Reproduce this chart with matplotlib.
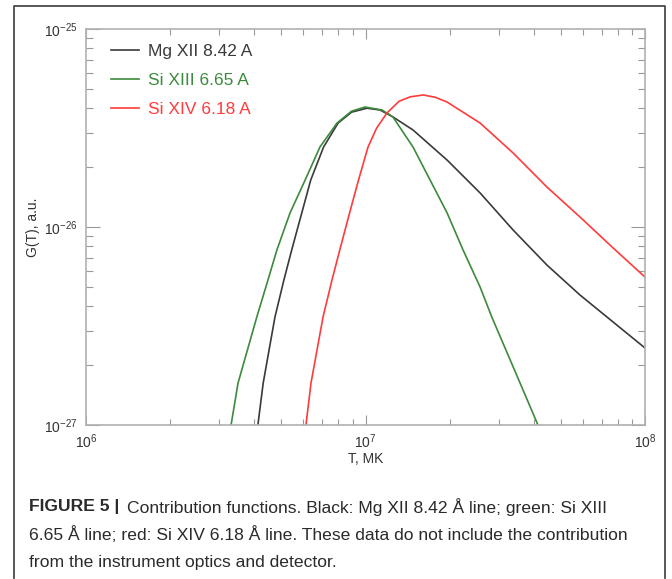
import matplotlib
matplotlib.use("Agg")
import matplotlib.pyplot as plt
import numpy as np
from matplotlib.lines import Line2D
from matplotlib.ticker import LogLocator, NullFormatter

plt.rcParams['font.family'] = ['Liberation Sans', 'DejaVu Sans']
plt.rcParams['mathtext.fontset'] = 'custom'
plt.rcParams['mathtext.rm'] = 'Liberation Sans'
plt.rcParams['mathtext.it'] = 'Liberation Sans'
plt.rcParams['axes.unicode_minus'] = False

# log10(T) and log10(G)
mg_logT = [6.615, 6.634, 6.676, 6.708, 6.736, 6.772, 6.804, 6.850, 6.902, 6.95, 7.005, 7.052,
           7.098, 7.170, 7.292, 7.410, 7.528, 7.649, 7.767, 7.886, 8.0]
mg_logG = [-27.0, -26.788, -26.455, -26.268, -26.116, -25.929, -25.763, -25.596, -25.475, -25.42, -25.40, -25.409,
           -25.444, -25.510, -25.662, -25.828, -26.015, -26.192, -26.343, -26.480, -26.611]

si13_logT = [6.519, 6.544, 6.611, 6.651, 6.683, 6.730, 6.784, 6.837, 6.898, 6.95, 6.998, 7.059,
             7.098, 7.170, 7.292, 7.349, 7.410, 7.452, 7.553, 7.617]
si13_logG = [-27.0, -26.788, -26.455, -26.268, -26.116, -25.929, -25.763, -25.596, -25.475, -25.415, -25.394, -25.409,
             -25.444, -25.596, -25.929, -26.116, -26.303, -26.455, -26.788, -27.0]

si14_logT = [6.787, 6.805, 6.848, 6.880, 6.908, 6.943, 6.975, 7.009, 7.04, 7.077, 7.12, 7.159,
             7.206, 7.250, 7.292, 7.410, 7.528, 7.649, 7.767, 7.886, 8.0]
si14_logG = [-27.0, -26.788, -26.455, -26.268, -26.116, -25.929, -25.763, -25.596, -25.50, -25.424, -25.365, -25.343,
             -25.333, -25.345, -25.369, -25.475, -25.626, -25.798, -25.949, -26.106, -26.253]

labels = ['Mg XII 8.42 A', 'Si XIII 6.65 A', 'Si XIV 6.18 A']
colors = ['#3a3a3a', '#3c8a3c', '#ff3b3b']
xticks = [1e6, 1e7, 1e8]
yticks = [1e-27, 1e-26, 1e-25]

W, H = 672, 579
fig = plt.figure(figsize=(W / 100, H / 100), dpi=100)
ax = fig.add_axes([86 / W, 1 - 425 / H, (645 - 86) / W, (425 - 29) / H])

series = [(mg_logT, mg_logG), (si13_logT, si13_logG), (si14_logT, si14_logG)]
for (lt, lg), lab, c in zip(series, labels, colors):
    ax.plot(10 ** np.array(lt), 10 ** np.array(lg), color=c, lw=1.2, label=lab)

ax.set_xscale('log')
ax.set_yscale('log')
ax.set_xticks(xticks)
ax.set_yticks(yticks)
ax.set_xlim(1e6, 1e8)
ax.set_ylim(1e-27, 1e-25)

for s in ax.spines.values():
    s.set_color('#b0b0b0')
    s.set_linewidth(1.2)
ax.xaxis.set_minor_locator(LogLocator(base=10, subs=np.arange(2, 10)))
ax.yaxis.set_minor_locator(LogLocator(base=10, subs=np.arange(2, 10)))
ax.xaxis.set_minor_formatter(NullFormatter())
ax.yaxis.set_minor_formatter(NullFormatter())
ax.tick_params(which='both', direction='in', top=True, right=True, color='#999999', width=0.8,
               labelsize=10, labelcolor='#333333')
ax.tick_params(which='major', length=7)
ax.tick_params(which='minor', length=4)
ax.tick_params(axis='y', which='major', length=10)
ax.tick_params(axis='y', which='minor', length=5)
ax.tick_params(axis='x', pad=5)
ax.tick_params(axis='y', pad=6)

ax.set_xlabel('T, MK', fontsize=10, color='#333333', labelpad=1)
ax.set_ylabel('G(T), a.u.', fontsize=10, color='#333333', labelpad=3)

leg = ax.legend(loc='upper left', frameon=False, fontsize=12.5, handlelength=1.6, handletextpad=0.55,
                labelspacing=0.82, bbox_to_anchor=(0.017, 1.003), labelcolor='linecolor')

# outer frame (open at bottom)
fx = [14 / W, 14 / W, 665 / W, 665 / W]
fy = [1 / H, 1 - 6 / H, 1 - 6 / H, 1 / H]
fig.add_artist(Line2D(fx, fy, transform=fig.transFigure, color='#4a4a4a', lw=1.3))

# caption
cap_font = ['Liberation Sans', 'DejaVu Sans']
cap_size = 12.6
x0 = 29 / W
t1 = fig.text(x0, 1 - 507 / H, 'FIGURE 5 |', fontsize=cap_size, fontweight='bold', family=cap_font,
              color='#2a2a2a', va='center')
fig.canvas.draw()
bb = t1.get_window_extent()
fig.text((bb.x1 + 8) / W, 1 - 507 / H, 'Contribution functions. Black: Mg XII 8.42 Å line; green: Si XIII',
         fontsize=cap_size, family=cap_font, color='#2a2a2a', va='center')
fig.text(x0, 1 - 535 / H, '6.65 Å line; red: Si XIV 6.18 Å line. These data do not include the contribution',
         fontsize=cap_size, family=cap_font, color='#2a2a2a', va='center')
fig.text(x0, 1 - 562 / H, 'from the instrument optics and detector.',
         fontsize=cap_size, family=cap_font, color='#2a2a2a', va='center')

fig.savefig('out.png', dpi=100)
